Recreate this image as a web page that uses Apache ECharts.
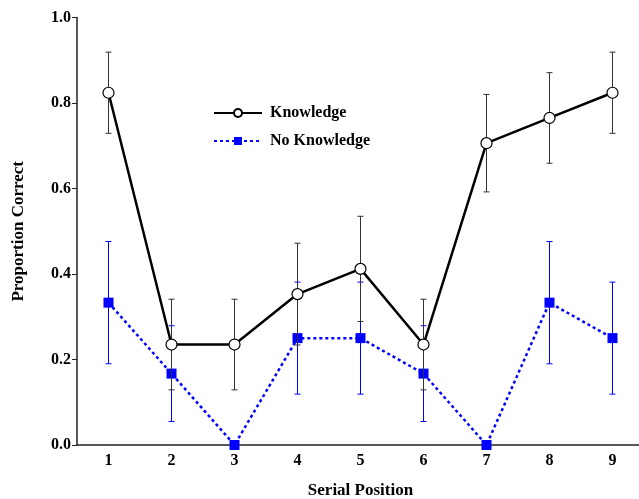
<!DOCTYPE html>
<html>
<head>
<meta charset="utf-8">
<script src="https://cdn.jsdelivr.net/npm/echarts@6/dist/echarts.min.js"></script>
<style>
  html, body { margin: 0; padding: 0; background: #fff; }
  #chart { width: 639px; height: 499px; }
</style>
</head>
<body>
<div id="chart"></div>
<script>
// Serial positions and proportion correct per condition
const positions = ['1', '2', '3', '4', '5', '6', '7', '8', '9'];
const knowledge = [0.824, 0.235, 0.235, 0.353, 0.412, 0.235, 0.706, 0.765, 0.824];
const knowledgeErr = [0.095, 0.106, 0.106, 0.119, 0.123, 0.106, 0.114, 0.106, 0.095];
const noKnowledge = [0.333, 0.167, 0.0, 0.25, 0.25, 0.167, 0.0, 0.333, 0.25];
const noKnowledgeErr = [0.143, 0.112, 0.0, 0.131, 0.131, 0.112, 0.0, 0.143, 0.131];
const yTicks = [0, 0.2, 0.4, 0.6, 0.8, 1.0];

const FONT = '"Liberation Serif", "Times New Roman", serif';

function errorData(vals, errs) {
  return vals.map((v, i) => [i, v - errs[i], v + errs[i]]);
}

function errorSeries(vals, errs, color, z) {
  return {
    type: 'custom',
    z: z,
    silent: true,
    data: errorData(vals, errs),
    renderItem: function (params, api) {
      const i = api.value(0);
      const lo = api.coord([i, api.value(1)]);
      const hi = api.coord([i, api.value(2)]);
      if (Math.abs(hi[1] - lo[1]) < 0.5) return null;
      const cap = 3;
      const style = { stroke: color, lineWidth: 1 };
      return {
        type: 'group',
        children: [
          { type: 'line', shape: { x1: lo[0], y1: lo[1], x2: hi[0], y2: hi[1] }, style: style },
          { type: 'line', shape: { x1: lo[0] - cap, y1: lo[1], x2: lo[0] + cap, y2: lo[1] }, style: style },
          { type: 'line', shape: { x1: hi[0] - cap, y1: hi[1], x2: hi[0] + cap, y2: hi[1] }, style: style }
        ]
      };
    }
  };
}

const chart = echarts.init(document.getElementById('chart'), null, { renderer: 'canvas' });

chart.setOption({
  animation: false,
  backgroundColor: '#ffffff',
  textStyle: { fontFamily: FONT },
  grid: { left: 77, width: 567, top: 17.5, height: 427.5, containLabel: false, outerBoundsMode: 'none' },
  legend: {
    orient: 'vertical',
    left: 208,
    top: 100,
    itemWidth: 48,
    itemHeight: 10,
    itemGap: 12,
    data: ['Knowledge', 'No Knowledge'],
    textStyle: { fontFamily: FONT, fontWeight: 'bold', fontSize: 16, color: '#000', padding: [0, 0, 0, 3] }
  },
  xAxis: {
    type: 'category',
    data: positions,
    boundaryGap: true,
    name: 'Serial Position',
    nameLocation: 'middle',
    nameGap: 37,
    nameTextStyle: { fontFamily: FONT, fontWeight: 'bold', fontSize: 17, color: '#000' },
    axisLine: { lineStyle: { color: '#222', width: 1.5 } },
    axisTick: { alignWithLabel: true, length: 4, lineStyle: { color: '#222' } },
    axisLabel: { fontFamily: FONT, fontWeight: 'bold', fontSize: 16, color: '#000', margin: 8 },
    splitLine: { show: false }
  },
  yAxis: {
    type: 'value',
    min: 0,
    max: 1,
    interval: 0.2,
    name: 'Proportion Correct',
    nameLocation: 'middle',
    nameGap: 50,
    nameTextStyle: { fontFamily: FONT, fontWeight: 'bold', fontSize: 17, color: '#000' },
    axisLine: { show: true, lineStyle: { color: '#222', width: 1.5 } },
    axisTick: { show: true, length: 5, lineStyle: { color: '#222' } },
    axisLabel: {
      fontFamily: FONT, fontWeight: 'bold', fontSize: 16, color: '#000', margin: 6,
      formatter: v => yTicks.includes(+v.toFixed(1)) ? v.toFixed(1) : ''
    },
    splitLine: { show: false }
  },
  series: [
    errorSeries(noKnowledge, noKnowledgeErr, '#0000ff', 1),
    {
      name: 'No Knowledge',
      type: 'line',
      z: 2,
      data: noKnowledge,
      symbol: 'rect',
      symbolSize: 10,
      itemStyle: { color: '#0000ff', borderWidth: 0 },
      lineStyle: { color: '#0000ff', width: 2.5, type: [3, 3] }
    },
    errorSeries(knowledge, knowledgeErr, '#333333', 3),
    {
      name: 'Knowledge',
      type: 'line',
      z: 4,
      data: knowledge,
      symbol: 'circle',
      symbolSize: 11,
      showAllSymbol: true,
      itemStyle: { color: '#ffffff', borderColor: '#000', borderWidth: 1.2 },
      lineStyle: { color: '#000', width: 2.5 }
    }
  ]
});
</script>
</body>
</html>
